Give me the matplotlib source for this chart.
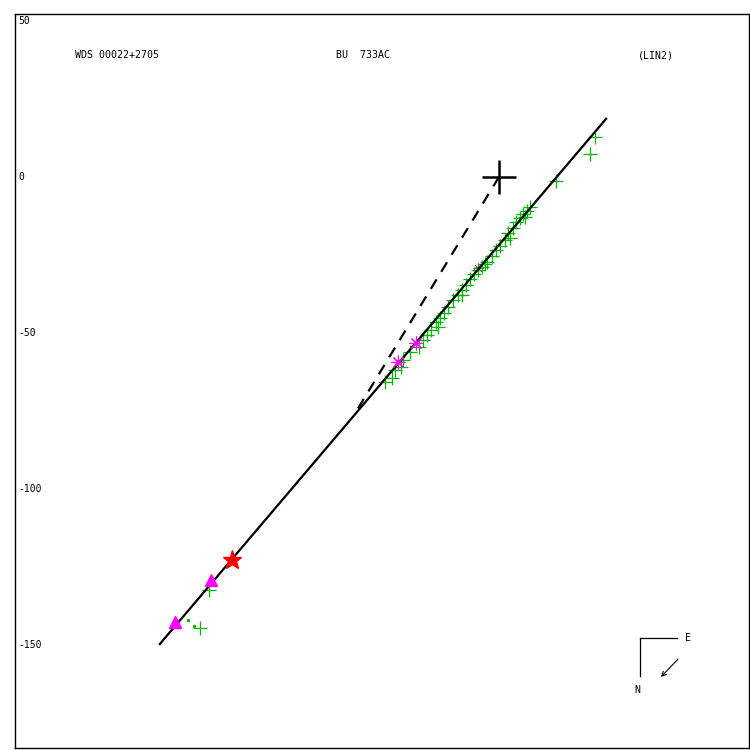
import matplotlib
matplotlib.use("Agg")
import matplotlib.pyplot as plt

# ---- data ----
title_left = "WDS 00022+2705"
title_mid = "BU  733AC"
title_right = "(LIN2)"

y_ticks = [50, 0, -50, -100, -150]

orbit_x = [-108.7, 34.3]
orbit_y = [-149.7, 18.6]

node_x = [0.0, -45.5]
node_y = [0.0, -74.7]

green_x = [29.2, 30.8, 18.3, 9.9, 9.0, 7.7, 6.7, 5.4, 4.5, 2.9, 1.9, 0.3, -1.0,
           -2.2, -3.8, -5.4, -6.7, -8.0, -9.3, -10.6, -11.9, -13.1, -14.7,
           -16.3, -17.6, -18.9, -20.2, -21.8, -23.1, -24.4, -28.5, -30.8,
           -33.3, -34.3, -36.5, -92.9, -95.8, 8.2, 3.5, -4.5, -12.0, -19.5,
           -25.5, -31.5]
green_y = [7.4, 12.8, -1.3, -9.6, -10.9, -11.9, -13.1, -14.4, -16.3, -17.9,
           -20.2, -22.1, -23.4, -25.3, -27.2, -28.8, -29.8, -31.1, -32.7,
           -34.6, -36.2, -37.8, -39.4, -41.7, -43.6, -45.2, -46.5, -49.0,
           -50.6, -52.2, -56.1, -58.7, -61.9, -64.4, -65.7, -132.4, -144.6,
           -12.8, -19.6, -28.0, -38.0, -48.0, -54.5, -61.0]

dot_x = [-99.7, -97.8]
dot_y = [-142.0, -143.9]

ast_x = [-32.4, -26.6]
ast_y = [-59.3, -53.2]

ast_small_x = [-6.7]
ast_small_y = [-29.2]

tri_x = [-103.8, -92.3]
tri_y = [-142.6, -129.2]

star_x = [-85.6]
star_y = [-122.8]

xlim = (-155.1, 80.1)
ylim = (-183.0, 52.2)

# ---- figure ----
fig = plt.figure(figsize=(7.5, 7.5), dpi=100)
ax = fig.add_axes([15 / 750, 2 / 750, 734 / 750, 734 / 750])
ax.set_xlim(*xlim)
ax.set_ylim(*ylim)
ax.set_xticks([])
ax.set_yticks([])
for sp in ax.spines.values():
    sp.set_linewidth(1.0)
    sp.set_color("black")

mono = "DejaVu Sans Mono"

# orbit line and node line
ax.plot(orbit_x, orbit_y, color="red", lw=0.8, zorder=2)
ax.plot(orbit_x, orbit_y, color="black", lw=1.6, zorder=3)
ax.plot(node_x, node_y, color="black", lw=1.6, ls=(0, (5, 4)), zorder=3)

# observations
ax.plot(green_x, green_y, ls="none", marker="+", ms=10, mew=0.9,
        color="#00b800", zorder=2)
ax.plot(dot_x, dot_y, ls="none", marker="s", ms=1.2, color="#00b800", zorder=2)
ax.plot(ast_x, ast_y, ls="none", marker=(8, 2, 0), ms=10, mew=0.8,
        color="#ff00ff", zorder=4)
ax.plot(ast_small_x, ast_small_y, ls="none", marker=(8, 2, 0), ms=7, mew=0.6,
        color="#ff00ff", zorder=1)
ax.plot(tri_x, tri_y, ls="none", marker="^", ms=8, color="#ff00ff", zorder=4)
ax.plot(star_x, star_y, ls="none", marker="*", ms=14, color="red", zorder=5)

# primary position
ax.plot([0], [0], marker="+", ms=25, mew=1.8, color="black", zorder=5)

# y tick labels inside
for v in y_ticks:
    ax.text(xlim[0] + 1.0, v, str(v), family=mono, fontsize=7,
            va="center", ha="left")

# header texts
for txt, px in [(title_left, 75), (title_mid, 336), (title_right, 638)]:
    fig.text(px / 750, 1 - 55 / 750, txt, family=mono, fontsize=7.2,
             va="center", ha="left")

# compass
fig.add_artist(plt.Line2D([640 / 750, 677 / 750], [1 - 638 / 750, 1 - 638 / 750],
                          color="black", lw=0.9))
fig.add_artist(plt.Line2D([640 / 750, 640 / 750], [1 - 638 / 750, 1 - 676 / 750],
                          color="black", lw=0.9))
fig.text(688 / 750, 1 - 638 / 750, "E", family=mono, fontsize=7.2,
         va="center", ha="center")
fig.text(637 / 750, 1 - 690 / 750, "N", family=mono, fontsize=7.2,
         va="center", ha="center")
ax.annotate("", xy=(659 / 750, 1 - 679 / 750), xycoords="figure fraction",
            xytext=(680 / 750, 1 - 657 / 750), textcoords="figure fraction",
            arrowprops=dict(arrowstyle="->", lw=0.8, color="black",
                            mutation_scale=8))

fig.savefig("out.png", dpi=100)
